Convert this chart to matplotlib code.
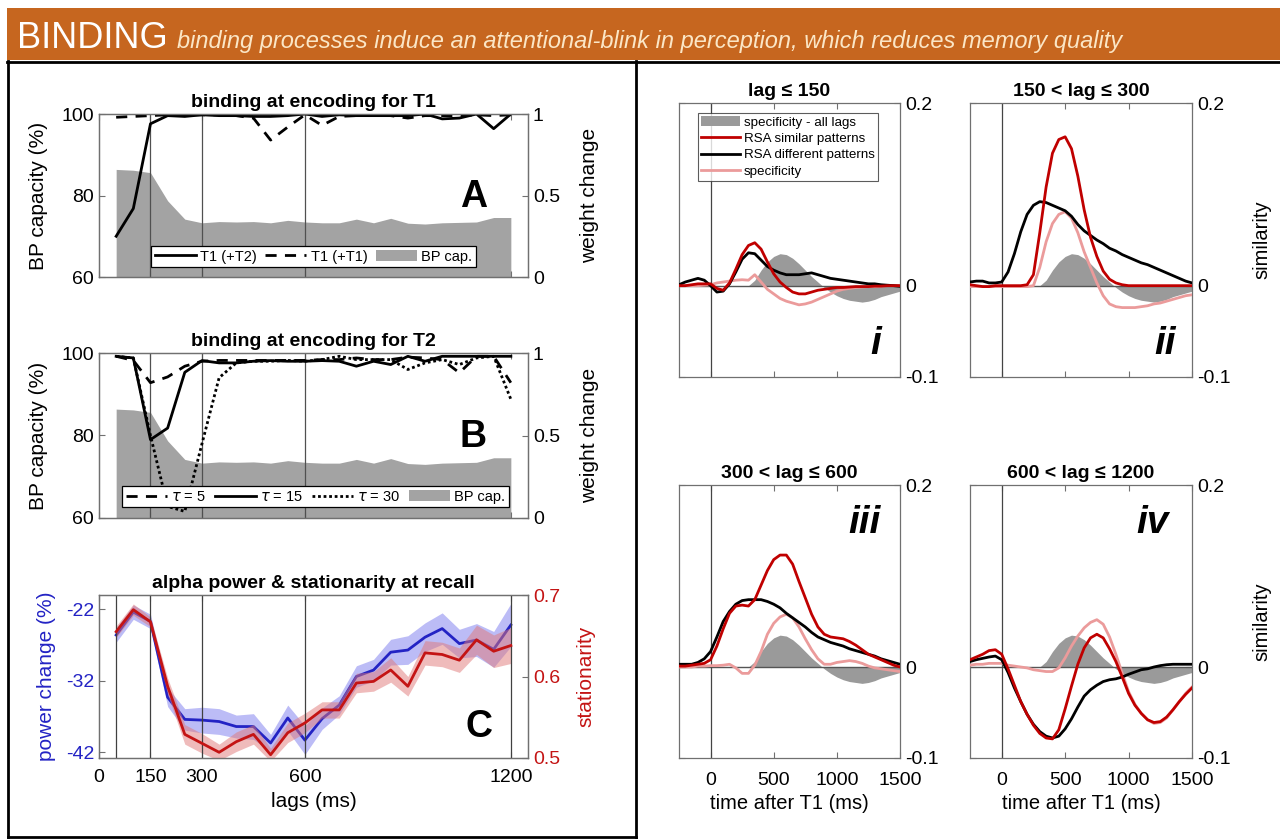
import numpy as np
import matplotlib
matplotlib.use('Agg')
import matplotlib.pyplot as plt
from matplotlib.patches import Rectangle, Patch
from matplotlib.lines import Line2D

plt.rcParams['font.family'] = ['Liberation Sans', 'DejaVu Sans']
plt.rcParams['mathtext.fontset'] = 'dejavusans'
plt.rcParams['axes.unicode_minus'] = False

# ---------------- data ----------------
lags = list(range(50, 1201, 50))  # ms

bp_cap = [86.4, 86.2, 85.6, 78.7, 74.2, 73.3, 73.6, 73.5, 73.6, 73.3, 73.9, 73.5,
          73.3, 73.3, 74.2, 73.3, 74.4, 73.2, 73.0, 73.3, 73.4, 73.5, 74.6, 74.6]

t1_plus_t2 = [0.25, 0.42, 0.94, 0.99, 0.985, 0.995, 0.99, 0.99, 0.985, 0.985, 0.99, 1.0,
              0.985, 0.995, 0.99, 0.99, 0.99, 0.99, 1.0, 0.97, 0.975, 1.0, 0.91, 1.0]
t1_plus_t1 = [0.98, 0.985, 0.99, 0.995, 0.995, 0.995, 0.995, 0.99, 0.975, 0.84, 0.92, 0.995,
              0.93, 0.985, 0.99, 0.995, 0.99, 0.975, 0.99, 0.99, 0.99, 0.995, 0.99, 0.995]

tau5 = [0.98, 0.955, 0.82, 0.855, 0.92, 0.95, 0.955, 0.955, 0.955, 0.955, 0.955, 0.955,
        0.96, 0.96, 0.97, 0.96, 0.96, 0.975, 0.97, 0.96, 0.88, 0.98, 0.98, 0.82]
tau15 = [0.98, 0.97, 0.475, 0.545, 0.883, 0.954, 0.94, 0.94, 0.95, 0.954, 0.95, 0.95,
         0.954, 0.95, 0.92, 0.95, 0.93, 0.98, 0.95, 0.98, 0.98, 0.98, 0.98, 0.98]
tau30 = [0.98, 0.97, 0.5, 0.07, 0.04, 0.45, 0.85, 0.94, 0.95, 0.95, 0.955, 0.95,
         0.96, 0.98, 0.96, 0.96, 0.96, 0.90, 0.94, 0.96, 0.93, 0.97, 0.98, 0.72]

alpha_power = [-25.6, -22.4, -23.7, -34.3, -37.4, -37.5, -37.7, -38.4, -38.4, -40.7, -37.2, -40.3,
               -37.3, -35.4, -31.4, -30.5, -28.0, -27.7, -25.9, -24.7, -26.8, -26.3, -27.6, -24.2]
alpha_power_err = [1.0, 1.0, 1.0, 1.3, 1.5, 1.8, 1.8, 1.6, 1.8, 1.2, 1.8, 2.0,
                   1.5, 1.3, 1.5, 1.5, 1.8, 2.0, 2.0, 2.2, 2.0, 2.3, 2.5, 3.0]
stationarity = [0.655, 0.682, 0.667, 0.588, 0.529, 0.518, 0.507, 0.520, 0.529, 0.504, 0.531, 0.543,
                0.559, 0.559, 0.592, 0.594, 0.608, 0.588, 0.629, 0.627, 0.620, 0.645, 0.631, 0.638]
stationarity_err = [0.007, 0.007, 0.006, 0.010, 0.012, 0.012, 0.010, 0.012, 0.012, 0.008, 0.012, 0.012,
                    0.010, 0.010, 0.012, 0.012, 0.015, 0.012, 0.015, 0.015, 0.015, 0.018, 0.020, 0.022]

time_ms = list(range(-250, 1501, 50))

spec_all_lags = [0, 0, 0, 0, 0, 0, 0, 0, 0, 0, 0,
                 0.0, 0.006, 0.017, 0.026, 0.032, 0.035, 0.034, 0.030, 0.024, 0.017, 0.010, 0.004,
                 -0.002, -0.007, -0.011, -0.014, -0.016, -0.017, -0.018, -0.017, -0.015, -0.012,
                 -0.010, -0.008, -0.006]

rsa_similar = {
    'i': [0.0, 0.0, 0.001, 0.002, 0.002, 0.002, -0.003, -0.005, 0.003, 0.018, 0.034, 0.044,
          0.047, 0.040, 0.026, 0.013, 0.004, -0.002, -0.007, -0.009, -0.009, -0.007, -0.005, -0.004,
          -0.003, -0.002, -0.002, -0.0015, -0.001, -0.001, -0.001, -0.0005, -0.0005, 0.0, 0.0, 0.0],
    'ii': [0.001, 0.0, -0.001, -0.001, 0.0, 0.0, 0.0, 0.0, 0.0, 0.001, 0.012, 0.058,
           0.108, 0.145, 0.160, 0.163, 0.150, 0.120, 0.083, 0.053, 0.032, 0.016, 0.007, 0.003,
           0.001, 0.0, 0.0, 0.0, 0.0, 0.0, 0.0, 0.0, 0.0, 0.0, 0.0, 0.0],
    'iii': [0.001, 0.001, 0.002, 0.003, 0.004, 0.008, 0.023, 0.042, 0.059, 0.067, 0.068, 0.067,
            0.074, 0.090, 0.106, 0.118, 0.123, 0.123, 0.113, 0.094, 0.076, 0.058, 0.044, 0.036,
            0.033, 0.032, 0.031, 0.028, 0.024, 0.019, 0.014, 0.011, 0.008, 0.005, 0.002, 0.0],
    'iv': [0.008, 0.011, 0.014, 0.018, 0.019, 0.014, -0.002, -0.020, -0.038, -0.052, -0.064, -0.073,
           -0.078, -0.079, -0.069, -0.046, -0.021, 0.003, 0.021, 0.032, 0.036, 0.032, 0.020, 0.006,
           -0.011, -0.029, -0.042, -0.051, -0.058, -0.061, -0.060, -0.055, -0.047, -0.038, -0.030, -0.023],
}
rsa_different = {
    'i': [0.001, 0.004, 0.006, 0.008, 0.006, 0.0, -0.007, -0.006, 0.002, 0.015, 0.029, 0.036,
          0.035, 0.028, 0.021, 0.017, 0.014, 0.012, 0.012, 0.012, 0.013, 0.014, 0.012, 0.010,
          0.008, 0.007, 0.006, 0.005, 0.004, 0.003, 0.002, 0.002, 0.001, 0.0005, 0.0, -0.0007],
    'ii': [0.004, 0.005, 0.005, 0.003, 0.003, 0.004, 0.015, 0.035, 0.059, 0.078, 0.088, 0.092,
           0.091, 0.088, 0.085, 0.082, 0.076, 0.067, 0.060, 0.055, 0.050, 0.046, 0.041, 0.038,
           0.034, 0.031, 0.028, 0.025, 0.023, 0.020, 0.017, 0.014, 0.011, 0.008, 0.005, 0.003],
    'iii': [0.003, 0.003, 0.003, 0.005, 0.009, 0.017, 0.033, 0.050, 0.061, 0.069, 0.073, 0.074,
            0.074, 0.074, 0.072, 0.069, 0.065, 0.059, 0.054, 0.049, 0.044, 0.038, 0.033, 0.030,
            0.027, 0.025, 0.023, 0.020, 0.018, 0.016, 0.014, 0.012, 0.009, 0.007, 0.005, 0.003],
    'iv': [0.006, 0.008, 0.0095, 0.011, 0.012, 0.008, -0.006, -0.023, -0.038, -0.052, -0.063, -0.071,
           -0.076, -0.078, -0.076, -0.068, -0.057, -0.044, -0.032, -0.025, -0.020, -0.016, -0.014, -0.013,
           -0.011, -0.008, -0.0055, -0.003, -0.002, 0.0, 0.0015, 0.0025, 0.003, 0.003, 0.003, 0.003],
}
specificity = {
    'i': [0.0, 0.0, 0.0, 0.0, 0.0005, 0.001, 0.003, 0.004, 0.005, 0.006, 0.0065, 0.006,
          0.012, 0.004, -0.004, -0.009, -0.014, -0.017, -0.019, -0.021, -0.020, -0.018, -0.015, -0.012,
          -0.009, -0.006, -0.004, -0.003, -0.002, -0.0015, -0.001, -0.001, -0.0005, 0.0, 0.0, 0.0],
    'ii': [-0.001, -0.001, -0.001, -0.001, -0.001, -0.001, -0.001, -0.001, -0.001, -0.001, 0.0, 0.020,
           0.048, 0.068, 0.078, 0.081, 0.074, 0.058, 0.037, 0.020, 0.003, -0.011, -0.020, -0.023,
           -0.024, -0.024, -0.024, -0.023, -0.022, -0.020, -0.019, -0.017, -0.015, -0.013, -0.011, -0.010],
    'iii': [0.0, 0.0, 0.0, 0.001, 0.001, 0.0015, 0.0015, 0.002, 0.003, -0.001, -0.007, -0.007,
            0.002, 0.017, 0.036, 0.048, 0.055, 0.058, 0.054, 0.044, 0.031, 0.019, 0.009, 0.003,
            0.003, 0.005, 0.006, 0.007, 0.006, 0.004, 0.001, -0.001, -0.002, -0.003, -0.004, -0.005],
    'iv': [0.002, 0.003, 0.003, 0.004, 0.004, 0.004, 0.002, 0.001, 0.0, -0.001, -0.003, -0.004,
           -0.005, -0.005, -0.001, 0.010, 0.023, 0.034, 0.043, 0.049, 0.052, 0.047, 0.033, 0.014,
           -0.007, -0.027, -0.041, -0.051, -0.058, -0.062, -0.061, -0.056, -0.047, -0.038, -0.029, -0.022],
}
rsa_titles = {'i': 'lag ≤ 150', 'ii': '150 < lag ≤ 300',
              'iii': '300 < lag ≤ 600', 'iv': '600 < lag ≤ 1200'}

lag_ticks = [0, 150, 300, 600, 1200]
lag_lines_ab = [150, 300, 600]
lag_lines_c = [50, 150, 300, 600, 1200]

# ---------------- figure ----------------
W, H = 1280, 839
fig = plt.figure(figsize=(W / 100, H / 100), dpi=100)
fig.patch.set_facecolor('white')


def add_ax(l, t, r, b):
    return fig.add_axes([l / W, 1 - b / H, (r - l) / W, (b - t) / H])


def fx(x):
    return x / W


def fy(y):
    return 1 - y / H


SPINE = '#707070'
TICK_FS = 14


def style(ax):
    for s in ax.spines.values():
        s.set_color(SPINE)
        s.set_linewidth(0.9)
    ax.tick_params(direction='in', length=4, color=SPINE, labelsize=TICK_FS, width=0.8)
    ax.tick_params(axis='x', pad=8)


# header
fig.add_artist(Rectangle((fx(7), fy(60)), (W - 7) / W, 52 / H, transform=fig.transFigure,
                         facecolor='#c6661f', edgecolor='none', zorder=0))
fig.text(fx(17), fy(48), 'BINDING', color='white', fontsize=26, va='baseline', ha='left')
fig.text(fx(177), fy(48),
         'binding processes induce an attentional-blink in perception, which reduces memory quality',
         color='#fbe6c6', fontsize=17, style='italic', va='baseline', ha='left')

# panel borders
for (x0, y0, x1, y1) in [(7, 61.5, W, 61.5), (8, 61, 8, 837), (636, 61, 636, 839),
                         (8, 836.5, 636, 836.5)]:
    fig.add_artist(Line2D([fx(x0), fx(x1)], [fy(y0), fy(y1)], color='black', lw=2,
                          transform=fig.transFigure))


def bp_panel(t, b, title, lines, letter, legend_labels, legend_handles, leg_box):
    ax = add_ax(99, t, 528, b)
    ax.fill_between(lags, bp_cap, 60, color='#a3a3a3', lw=0, zorder=1)
    for v in lag_lines_ab:
        ax.axvline(v, color='#505050', lw=0.9, zorder=2)
    ax.set_xlim(0, 1250)
    ax.set_ylim(60, 100)
    ax.set_yticks([60, 80, 100])
    ax.set_xticks(lag_ticks)
    ax.set_xticklabels([])
    ax.set_ylabel('BP capacity (%)', fontsize=15)
    ax.yaxis.set_label_coords(-0.118, 0.5)
    ax.set_title(title, fontsize=14, fontweight='bold', pad=5)
    style(ax)
    ax.tick_params(top=True)
    ax2 = ax.twinx()
    for vals, ls in lines:
        ax2.plot(lags, vals, color='black', ls=ls, lw=2)
    ax2.set_ylim(0, 1)
    ax2.set_yticks([0, 0.5, 1])
    ax2.set_yticklabels(['0', '0.5', '1'])
    ax2.set_ylabel('weight change', fontsize=15, rotation=90)
    ax2.yaxis.set_label_coords(1.121, 0.5)
    style(ax2)
    ax2.text(0.873, 0.49, letter, transform=ax2.transAxes, fontsize=27, fontweight='bold',
             ha='center', va='center')
    leg = ax2.legend(legend_handles, legend_labels, loc='lower center', bbox_to_anchor=leg_box,
                     ncol=len(legend_labels), fontsize=10.5, frameon=True, fancybox=False,
                     handlelength=2.8, handletextpad=0.3, columnspacing=0.6, borderpad=0.25,
                     borderaxespad=0)
    leg.get_frame().set_edgecolor('black')
    leg.get_frame().set_linewidth(0.9)
    leg.get_frame().set_alpha(1)
    return ax, ax2


dash = (0, (4, 3))
dot = (0, (1, 1))
gray_patch = Patch(facecolor='#a3a3a3', edgecolor='none')

bp_panel(114, 277, 'binding at encoding for T1',
         [(t1_plus_t2, '-'), (t1_plus_t1, dash)], 'A',
         ['T1 (+T2)', 'T1 (+T1)', 'BP cap.'],
         [Line2D([], [], color='k', lw=2), Line2D([], [], color='k', lw=2, ls=dash), gray_patch],
         (0.5, 0.06))

bp_panel(353, 518, 'binding at encoding for T2',
         [(tau5, dash), (tau15, '-'), (tau30, dot)], 'B',
         [r'$\tau$ = 5', r'$\tau$ = 15', r'$\tau$ = 30', 'BP cap.'],
         [Line2D([], [], color='k', lw=2, ls=dash), Line2D([], [], color='k', lw=2),
          Line2D([], [], color='k', lw=2, ls=dot), gray_patch],
         (0.505, 0.065))

# panel C
BLUE = '#2323c4'
RED = '#c41414'
axC = add_ax(99, 595, 528, 758)
ap = np.array(alpha_power)
ape = np.array(alpha_power_err)
axC.fill_between(lags, ap - ape, ap + ape, color='#8585f0', alpha=0.55, lw=0, zorder=1)
axC.plot(lags, ap, color=BLUE, lw=2, zorder=3)
axC.set_xlim(0, 1250)
axC.set_ylim(-42.8, -20.0)
axC.set_yticks([-42, -32, -22])
axC.set_xticks(lag_ticks)
axC.set_xlabel('lags (ms)', fontsize=15, labelpad=4)
axC.set_ylabel('power change (%)', fontsize=15, color=BLUE)
axC.yaxis.set_label_coords(-0.10, 0.5)
axC.set_title('alpha power & stationarity at recall', fontsize=14, fontweight='bold', pad=5)
style(axC)
axC.tick_params(axis='y', labelcolor=BLUE)
axC.tick_params(top=True)
axC2 = axC.twinx()
st = np.array(stationarity)
ste = np.array(stationarity_err)
axC2.fill_between(lags, st - ste, st + ste, color='#e07878', alpha=0.5, lw=0, zorder=1)
axC2.plot(lags, st, color=RED, lw=2, zorder=3)
for v in lag_lines_c:
    axC2.axvline(v, color='#404040', lw=0.9, zorder=2)
axC2.set_ylim(0.5, 0.7)
axC2.set_yticks([0.5, 0.6, 0.7])
axC2.set_ylabel('stationarity', fontsize=15, color=RED, rotation=90)
axC2.yaxis.set_label_coords(1.113, 0.5)
style(axC2)
axC2.tick_params(axis='y', labelcolor=RED)
axC2.text(0.885, 0.19, 'C', transform=axC2.transAxes, fontsize=27, fontweight='bold',
          ha='center', va='center')

# RSA panels
RSA_RED = '#c00000'
RSA_PINK = '#eb9b9b'
positions = {'i': (679, 103, 900, 377), 'ii': (970, 103, 1192, 377),
             'iii': (679, 485, 900, 758), 'iv': (970, 485, 1192, 758)}
numeral_pos = {'i': (0.89, 0.12), 'ii': (0.88, 0.12), 'iii': (0.84, 0.86), 'iv': (0.82, 0.86)}

for key in ['i', 'ii', 'iii', 'iv']:
    l, t, r, b = positions[key]
    ax = add_ax(l, t, r, b)
    ax.fill_between(time_ms, spec_all_lags, 0, color='#9a9a9a', lw=0, zorder=1)
    ax.axhline(0, color='#555555', lw=1, zorder=2)
    ax.axvline(0, color='#444444', lw=0.9, zorder=2)
    ax.plot(time_ms, specificity[key], color=RSA_PINK, lw=2, zorder=3)
    ax.plot(time_ms, rsa_different[key], color='black', lw=2, zorder=4)
    ax.plot(time_ms, rsa_similar[key], color=RSA_RED, lw=2, zorder=5)
    ax.set_xlim(-250, 1500)
    ax.set_ylim(-0.1, 0.2)
    ax.set_xticks([0, 500, 1000, 1500])
    ax.set_yticks([-0.1, 0, 0.2])
    ax.set_yticklabels(['-0.1', '0', '0.2'])
    style(ax)
    ax.tick_params(left=True, right=True, top=True, labelleft=False, labelright=True)
    ax.tick_params(axis='x', pad=10)
    if key in ('iii', 'iv'):
        ax.set_xlabel('time after T1 (ms)', fontsize=14.5, labelpad=4)
    else:
        ax.set_xticklabels([])
    if key in ('ii', 'iv'):
        ax.yaxis.set_label_position('right')
        ax.set_ylabel('similarity', fontsize=14.5)
        ax.yaxis.set_label_coords(1.27, 0.5)
    ax.set_title(rsa_titles[key], fontsize=14, fontweight='bold', pad=5)
    nx, ny = numeral_pos[key]
    ax.text(nx, ny, key, transform=ax.transAxes, fontsize=28, fontweight='bold',
            style='italic', ha='center', va='center', zorder=6)
    if key == 'i':
        handles = [Patch(facecolor='#9a9a9a', edgecolor='none'),
                   Line2D([], [], color=RSA_RED, lw=2),
                   Line2D([], [], color='black', lw=2),
                   Line2D([], [], color=RSA_PINK, lw=2)]
        labels = ['specificity - all lags', 'RSA similar patterns',
                  'RSA different patterns', 'specificity']
        leg = ax.legend(handles, labels, loc='upper left', bbox_to_anchor=(0.086, 0.963),
                        fontsize=9.6, frameon=True, fancybox=False, handlelength=2.9,
                        handletextpad=0.3, borderpad=0.25, labelspacing=0.3, borderaxespad=0)
        leg.get_frame().set_edgecolor('#333333')
        leg.get_frame().set_linewidth(0.8)
        leg.set_zorder(10)

fig.savefig('out.png', dpi=100)
